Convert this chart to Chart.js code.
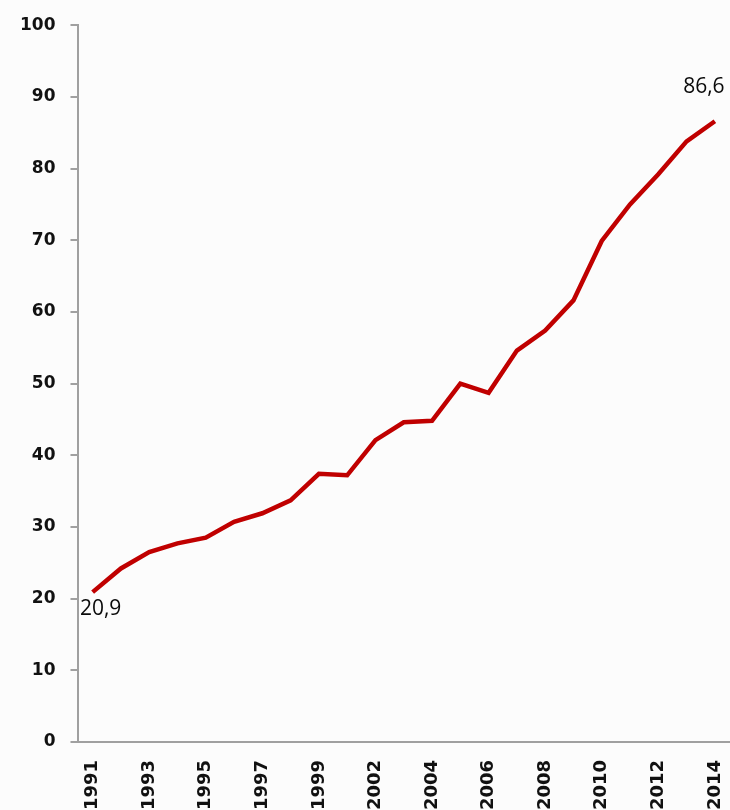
<!DOCTYPE html>
<html>
<head>
<meta charset="utf-8">
<script src="https://cdn.jsdelivr.net/npm/chart.js@4/dist/chart.umd.min.js"></script>
<style>
  html, body { margin: 0; padding: 0; background: #fcfcfc; overflow: hidden; }
  #wrap { width: 730px; height: 828px; position: relative; }
</style>
</head>
<body>
<div id="wrap"><canvas id="lineChart"></canvas></div>
<script>
// years (2000 is not in the series)
const years = ['1991', '1992', '1993', '1994', '1995', '1996', '1997', '1998', '1999',
    '2001', '2002', '2003', '2004', '2005', '2006', '2007', '2008', '2009', '2010',
    '2011', '2012', '2013', '2014'];
const values = [20.9, 24.2, 26.5, 27.7, 28.5, 30.7, 31.9, 33.7, 37.4,
    37.2, 42.1, 44.6, 44.8, 50.0, 48.7, 54.6, 57.4, 61.6, 69.9,
    75.0, 79.2, 83.8, 86.6];
const yTicks = [0, 10, 20, 30, 40, 50, 60, 70, 80, 90, 100];
// only first and last point get a value label
const labelledPoints = [0, 22];

const pointLabels = {
    id: 'pointLabels',
    afterDatasetsDraw(chart) {
        const ctx = chart.ctx;
        const pts = chart.getDatasetMeta(0).data;
        ctx.save();
        ctx.font = '500 21px "Open Sans", sans-serif';
        ctx.fillStyle = '#0a0a0a';
        ctx.textAlign = 'center';
        ctx.textBaseline = 'middle';
        labelledPoints.forEach(function (i) {
            const p = pts[i];
            const txt = values[i].toFixed(1).replace('.', ',');
            if (i === 0) {
                ctx.fillText(txt, p.x + 8, p.y + 17);
            } else {
                ctx.fillText(txt, p.x - 11, p.y - 34);
            }
        });
        ctx.restore();
    }
};

var ctx = document.getElementById('lineChart').getContext('2d');
var lineChart = new Chart(ctx, {
    type: 'line',
    data: {
        labels: years,
        datasets: [{
            data: values,
            borderColor: '#c00000',
            borderWidth: 4.5,
            pointRadius: 0,
            tension: 0,
            fill: false
        }]
    },
    plugins: [pointLabels],
    options: {
        responsive: true,
        maintainAspectRatio: false,
        animation: false,
        layout: { padding: { top: 14, right: 1, left: 5 } },
        plugins: {
            legend: { display: false },
            tooltip: { enabled: false }
        },
        scales: {
            x: {
                offset: true,
                grid: { display: false, drawTicks: false },
                border: { color: '#a0a0a0', width: 2 },
                afterFit: function (scale) {
                    scale.paddingLeft = 0;
                    scale.paddingRight = 0;
                },
                ticks: {
                    autoSkip: false,
                    maxRotation: 90,
                    minRotation: 90,
                    padding: 18,
                    color: '#111',
                    font: { family: 'DejaVu Sans', size: 18, weight: 'bold' },
                    callback: function (val, idx) {
                        return idx % 2 === 0 ? years[idx] : '';
                    }
                }
            },
            y: {
                min: 0,
                max: 100,
                afterBuildTicks: function (scale) {
                    scale.ticks = yTicks.map(v => ({ value: v }));
                },
                grid: {
                    drawOnChartArea: false,
                    drawTicks: true,
                    tickLength: 8,
                    color: '#a0a0a0',
                    lineWidth: 2
                },
                border: { color: '#a0a0a0', width: 2 },
                ticks: {
                    padding: 15,
                    color: '#111',
                    font: { family: 'DejaVu Sans', size: 17, weight: 'bold' }
                }
            }
        }
    }
});
</script>
</body>
</html>
